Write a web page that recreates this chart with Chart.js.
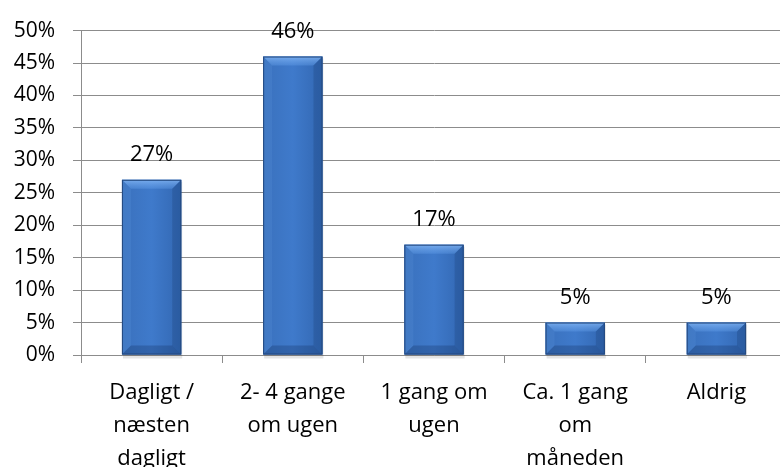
<!DOCTYPE html>
<html>
<head>
<meta charset="utf-8">
<script src="https://cdn.jsdelivr.net/npm/chart.js@4"></script>
<style>
  html, body { margin: 0; padding: 0; background: #fff; overflow: hidden; }
  #wrap { width: 787px; height: 467px; position: relative; }
</style>
</head>
<body>
<div id="wrap"><canvas id="c"></canvas></div>
<script>
const categories = [
  ['Dagligt /', 'næsten', 'dagligt'],
  ['2- 4 gange', 'om ugen'],
  ['1 gang om', 'ugen'],
  ['Ca. 1 gang', 'om', 'måneden'],
  ['Aldrig']
];
const shares = [27, 46, 17, 5, 5];
const yTicks = [0, 5, 10, 15, 20, 25, 30, 35, 40, 45, 50];

const FONT = "'Open Sans', sans-serif";

// Fill each bar with a soft gradient, then add bevel facets and outline
const bevelPlugin = {
  id: 'bevel',
  afterDatasetsDraw(chart) {
    const ctx = chart.ctx;
    const meta = chart.getDatasetMeta(0);
    meta.data.forEach(bar => {
      const l = bar.x - bar.width / 2, r = bar.x + bar.width / 2;
      const t = bar.y, b = bar.base;
      const d = Math.min(9, (b - t) / 2);
      ctx.save();
      // faint drop shadow
      ctx.fillStyle = 'rgba(0,0,0,0.10)';
      ctx.fillRect(l + 1, t + 2, r - l, b - t + 2);
      const g = ctx.createLinearGradient(l, 0, r, 0);
      g.addColorStop(0, '#3a71bd');
      g.addColorStop(0.5, '#3f7acb');
      g.addColorStop(1, '#3267b2');
      ctx.fillStyle = g;
      ctx.fillRect(l, t, r - l, b - t);
      // top facet
      const tg = ctx.createLinearGradient(0, t, 0, t + d);
      tg.addColorStop(0, 'rgba(140,190,250,0.75)');
      tg.addColorStop(1, 'rgba(100,160,235,0.35)');
      ctx.fillStyle = tg;
      ctx.beginPath();
      ctx.moveTo(l, t); ctx.lineTo(r, t); ctx.lineTo(r - d, t + d); ctx.lineTo(l + d, t + d); ctx.closePath(); ctx.fill();
      // left facet
      ctx.fillStyle = 'rgba(110,165,235,0.15)';
      ctx.beginPath();
      ctx.moveTo(l, t); ctx.lineTo(l + d, t + d); ctx.lineTo(l + d, b - d); ctx.lineTo(l, b); ctx.closePath(); ctx.fill();
      // right facet
      ctx.fillStyle = 'rgba(20,50,100,0.22)';
      ctx.beginPath();
      ctx.moveTo(r, t); ctx.lineTo(r - d, t + d); ctx.lineTo(r - d, b - d); ctx.lineTo(r, b); ctx.closePath(); ctx.fill();
      // bottom facet
      ctx.fillStyle = 'rgba(20,50,100,0.30)';
      ctx.beginPath();
      ctx.moveTo(l, b); ctx.lineTo(l + d, b - d); ctx.lineTo(r - d, b - d); ctx.lineTo(r, b); ctx.closePath(); ctx.fill();
      // outline
      ctx.strokeStyle = '#24497f';
      ctx.lineWidth = 1;
      ctx.strokeRect(l + 0.5, t + 0.5, r - l - 1, b - t - 1);
      ctx.restore();
    });
  }
};

// Percent labels above the bars
const valueLabels = {
  id: 'valueLabels',
  afterDatasetsDraw(chart) {
    const ctx = chart.ctx;
    const ds = chart.data.datasets[0];
    chart.getDatasetMeta(0).data.forEach((bar, i) => {
      ctx.save();
      ctx.font = `22px ${FONT}`;
      ctx.fillStyle = '#000';
      ctx.textAlign = 'center';
      ctx.textBaseline = 'middle';
      ctx.fillText(ds.data[i] + '%', bar.x, bar.y - 25);
      ctx.restore();
    });
  }
};

new Chart(document.getElementById('c'), {
  type: 'bar',
  data: {
    labels: categories,
    datasets: [{
      data: shares,
      backgroundColor: '#3a72c0',
      borderWidth: 0,
      barPercentage: 0.42,
      categoryPercentage: 1.0
    }]
  },
  options: {
    responsive: true,
    maintainAspectRatio: false,
    animation: false,
    layout: { padding: { top: 27, right: 0, left: 0, bottom: 0 } },
    plugins: { legend: { display: false }, tooltip: { enabled: false } },
    scales: {
      x: {
        grid: { drawOnChartArea: false, drawTicks: true, tickLength: 8, color: '#8c8c8c' },
        border: { color: '#8c8c8c' },
        ticks: { color: '#000', font: { family: FONT, size: 22, lineHeight: 1.5 }, padding: 13, maxRotation: 0, autoSkip: false },
        afterFit: (s) => { s.height = 112; }
      },
      y: {
        min: 0, max: 50,
        afterBuildTicks: (s) => { s.ticks = yTicks.map(v => ({ value: v })); },
        grid: { color: '#8c8c8c', tickLength: 8 },
        border: { color: '#8c8c8c' },
        ticks: { color: '#000', font: { family: FONT, size: 21 }, padding: 18, callback: (v) => v + '%' },
        afterFit: (s) => { s.width = 81; }
      }
    }
  },
  plugins: [bevelPlugin, valueLabels]
});
</script>
</body>
</html>
